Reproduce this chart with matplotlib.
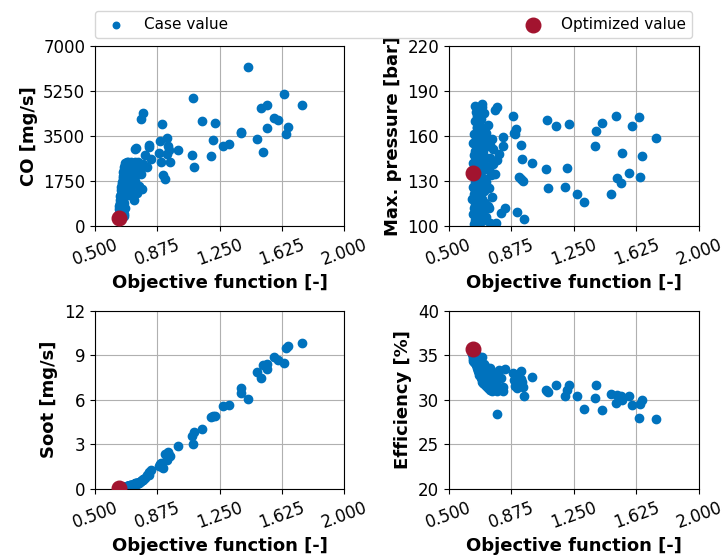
import matplotlib
matplotlib.use("Agg")
import matplotlib.pyplot as plt


# Case data (one entry per case, same order in every list)

obj = [
    1.743, 1.658, 1.648, 1.638, 1.601, 1.578, 1.537, 1.532, 1.510, 1.500,
    1.472, 1.420, 1.380, 1.378, 1.308, 1.268, 1.222, 1.210, 1.199, 1.145,
    1.095, 1.090, 1.086, 0.999,
    0.950, 0.945, 0.940, 0.936, 0.932, 0.924, 0.910, 0.906, 0.896, 0.892,
    0.884, 0.838, 0.827, 0.823, 0.815, 0.801, 0.791, 0.787, 0.785, 0.777,
    0.777, 0.765, 0.746, 0.740, 0.741,
    0.641, 0.643, 0.645, 0.646, 0.647, 0.648, 0.649, 0.650, 0.651, 0.652,
    0.653, 0.654, 0.655, 0.656, 0.657, 0.658, 0.659, 0.660, 0.661, 0.662,
    0.663, 0.664, 0.665, 0.666, 0.667, 0.668, 0.669, 0.670, 0.671, 0.672,
    0.673, 0.674, 0.675, 0.676, 0.677, 0.678, 0.679, 0.680, 0.681, 0.682,
    0.683, 0.684, 0.685, 0.686, 0.688, 0.689, 0.690, 0.692, 0.693, 0.694,
    0.696, 0.697, 0.699, 0.700, 0.702, 0.704, 0.705, 0.707, 0.709, 0.711,
    0.713, 0.715, 0.717, 0.719, 0.721, 0.723, 0.726, 0.729, 0.732, 0.735,
    0.738, 0.742, 0.746, 0.750, 0.754, 0.758, 0.762, 0.768,
    0.660, 0.668, 0.675, 0.680, 0.672, 0.655, 0.700, 0.697,
]

co = [
    4680, 3837, 3590, 5133, 4135, 4213, 4706, 3811, 2865, 4576,
    3383, 6157, 3642, 3600, 3202, 3111, 4006, 3357, 2709, 4070,
    2294, 4978, 2748, 2942,
    2476, 2956, 3111, 3435, 2787, 1815, 1983, 3980, 2476, 3318,
    2852, 2606, 3060, 3163, 2281, 2761, 4407, 2398, 1439, 4148,
    2022, 2100, 3020, 2990, 2502,
    380, 520, 650, 450, 780, 900, 560, 1020, 700, 1150,
    850, 1250, 980, 1380, 1100, 620, 1500, 1200, 1620, 1320,
    760, 1720, 1450, 1850, 1040, 1580, 1960, 1280, 2080, 1700,
    900, 2180, 1820, 1420, 2280, 1950, 1150, 2380, 2050, 1600,
    2450, 1750, 2200, 1300, 2330, 1880, 2500, 1500, 2100, 2420,
    1700, 2250, 1400, 2480, 1950, 2350, 1600, 2150, 2450, 1800,
    2300, 1350, 2050, 2500, 1150, 1900, 2400, 1650, 2200, 1000,
    2450, 1750, 2300, 1300, 2000, 2500, 1550, 2250,
    420, 550, 480, 700, 380, 900, 1250, 1900,
]

pmax = [
    158.5, 146.7, 132.9, 172.7, 166.7, 135.6, 148.7, 128.4, 131.8, 173.1,
    121.6, 168.7, 163.1, 153.3, 116.2, 121.6, 168.1, 138.4, 126.2, 166.7,
    125.3, 170.5, 137.8, 142.2,
    104.4, 130.0, 144.5, 154.0, 131.1, 132.9, 109.6, 164.5, 161.1, 162.0,
    173.3, 112.0, 153.3, 159.3, 108.7, 147.8, 178.9, 144.0, 102.0, 177.5,
    134.4, 151.1, 154.0, 138.0, 112.0,
    118, 142, 126, 108, 155, 133, 101, 147, 121, 161,
    112, 138, 129, 170, 104, 150, 124, 143, 176, 115,
    136, 158, 109, 128, 166, 119, 145, 102, 173, 131,
    154, 113, 140, 163, 125, 107, 148, 168, 135, 117,
    152, 104, 177, 139, 122, 160, 144, 111, 156, 171,
    127, 137, 103, 164, 118, 150, 132, 108, 175, 141,
    123, 157, 115, 146, 129, 162, 106, 138, 153, 113,
    167, 125, 145, 102, 134, 158, 119, 141,
    180, 165, 120, 110, 149, 114, 179, 181,
]

soot = [
    9.80, 9.66, 9.48, 8.45, 8.65, 8.88, 8.41, 8.09, 8.34, 7.44,
    7.89, 6.05, 6.79, 6.49, 5.66, 5.57, 4.92, 4.88, 4.85, 4.02,
    3.82, 3.03, 3.57, 2.90,
    2.22, 2.30, 2.45, 1.96, 2.15, 2.38, 1.37, 1.45, 1.73, 1.65,
    1.51, 1.24, 1.10, 0.94, 0.90, 0.75, 0.60, 0.65, 0.60, 0.55,
    0.50, 0.45, 0.38, 0.35, 0.40,
    0.02, 0.03, 0.03, 0.02, 0.04, 0.04, 0.03, 0.05, 0.04, 0.05,
    0.05, 0.06, 0.05, 0.06, 0.06, 0.04, 0.07, 0.07, 0.08, 0.07,
    0.05, 0.08, 0.08, 0.09, 0.06, 0.09, 0.10, 0.08, 0.10, 0.10,
    0.07, 0.11, 0.11, 0.10, 0.12, 0.12, 0.09, 0.13, 0.13, 0.12,
    0.14, 0.13, 0.14, 0.11, 0.15, 0.15, 0.16, 0.14, 0.16, 0.17,
    0.16, 0.18, 0.15, 0.19, 0.19, 0.21, 0.19, 0.22, 0.23, 0.22,
    0.24, 0.21, 0.25, 0.27, 0.23, 0.27, 0.29, 0.28, 0.31, 0.27,
    0.33, 0.33, 0.36, 0.34, 0.38, 0.41, 0.40, 0.45,
    0.03, 0.04, 0.04, 0.05, 0.03, 0.05, 0.09, 0.14,
]

eff = [
    27.8, 30.0, 29.5, 27.9, 29.4, 30.4, 30.0, 30.4, 30.5, 29.6,
    30.6, 28.8, 31.7, 30.2, 29.0, 30.4, 31.7, 31.1, 30.4, 31.7,
    30.9, 31.0, 31.1, 32.6,
    30.4, 31.4, 32.0, 33.2, 32.3, 31.8, 31.3, 32.6, 31.5, 32.2,
    33.0, 33.5, 31.0, 31.4, 32.5, 33.4, 28.4, 31.0, 31.8, 33.0,
    32.2, 32.8, 33.6, 32.0, 31.6,
    35.2, 35.0, 34.6, 35.1, 34.8, 34.4, 35.3, 34.7, 34.9, 34.3,
    34.6, 34.5, 34.1, 34.8, 34.4, 35.0, 34.2, 34.6, 34.0, 34.3,
    34.7, 34.5, 33.9, 34.1, 34.6, 33.8, 34.4, 34.0, 34.2, 33.6,
    34.5, 33.9, 33.4, 34.1, 33.7, 33.2, 34.3, 33.9, 33.0, 33.6,
    34.0, 32.8, 33.5, 33.8, 32.9, 33.3, 34.6, 32.6, 33.1, 34.2,
    32.4, 33.0, 32.0, 33.7, 32.3, 32.9, 31.9, 32.5, 34.0, 31.8,
    32.7, 32.1, 32.0, 33.8, 31.6, 32.4, 33.2, 31.5, 32.8, 31.3,
    33.5, 31.4, 32.6, 31.1, 31.9, 33.0, 31.0, 32.2,
    35.1, 34.9, 34.7, 34.4, 35.0, 35.3, 34.8, 33.4,
]

# Optimized case
opt_obj = 0.645
opt_co = 310
opt_pmax = 135
opt_soot = 0.05
opt_eff = 35.7

blue = "#0072BD"
red = "#A2142F"

xticks = [0.5, 0.875, 1.25, 1.625, 2.0]

panels = [
    (co, opt_co, "CO [mg/s]", [0, 1750, 3500, 5250, 7000]),
    (pmax, opt_pmax, "Max. pressure [bar]", [100, 130, 160, 190, 220]),
    (soot, opt_soot, "Soot [mg/s]", [0, 3, 6, 9, 12]),
    (eff, opt_eff, "Efficiency [%]", [20, 25, 30, 35, 40]),
]

# axes positions in figure fraction
positions = [
    [0.131, 0.595, 0.344, 0.323],
    [0.619, 0.595, 0.345, 0.323],
    [0.131, 0.124, 0.344, 0.319],
    [0.619, 0.124, 0.345, 0.319],
]

fig = plt.figure(figsize=(7.25, 5.58), dpi=100)

for (vals, opt_val, label, yticks), pos in zip(panels, positions):
    ax = fig.add_axes(pos)
    case = ax.scatter(obj, vals, s=36, color=blue, zorder=2, label="Case value")
    best = ax.scatter([opt_obj], [opt_val], s=110, color=red, zorder=3,
                      label="Optimized value")
    ax.set_xlim(0.5, 2.0)
    ax.set_ylim(yticks[0], yticks[-1])
    ax.set_xticks(xticks)
    ax.set_xticklabels(["%.3f" % t for t in xticks], rotation=20)
    ax.set_yticks(yticks)
    ax.tick_params(labelsize=12)
    ax.grid(True, zorder=0)
    ax.set_axisbelow(True)
    ax.set_xlabel("Objective function [-]", fontsize=13, fontweight="bold")
    ax.set_ylabel(label, fontsize=13, fontweight="bold")

leg = fig.legend([case, best], ["Case value", "Optimized value"],
                 loc="lower left", ncol=2, mode="expand", fontsize=11,
                 borderaxespad=0,
                 bbox_to_anchor=(95 / 725, 1 - 38 / 558, 597 / 725, 28 / 558))
leg.legend_handles[0].set_sizes([22])

fig.savefig("out.png", dpi=100)
